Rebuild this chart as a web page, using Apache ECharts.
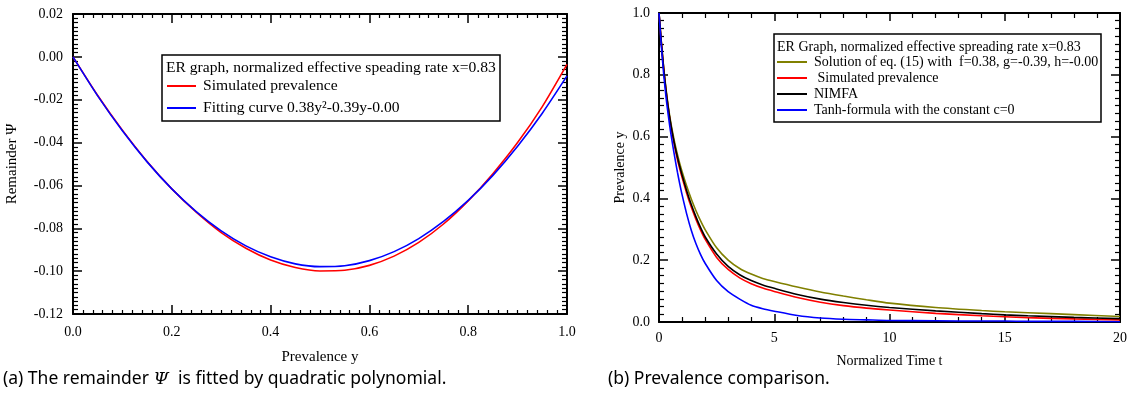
<!DOCTYPE html>
<html>
<head>
<meta charset="utf-8">
<script src="https://cdn.jsdelivr.net/npm/echarts@6/dist/echarts.min.js"></script>
<style>
  html, body { margin: 0; padding: 0; background: #fff; }
  #main { width: 1129px; height: 401px; }
</style>
</head>
<body>
<div id="main"></div>
<script>
// (a) remainder Psi against prevalence y
var prevY = [0, 0.05, 0.1, 0.15, 0.2, 0.25, 0.3, 0.35, 0.4, 0.45, 0.5,
             0.55, 0.6, 0.65, 0.7, 0.75, 0.8, 0.85, 0.9, 0.95, 1.0];
var psiSimulated = [0, -0.0180, -0.0342, -0.0488, -0.0616, -0.0726, -0.0820, -0.0893, -0.0948, -0.0983, -0.0999,
                    -0.0996, -0.0973, -0.0930, -0.0866, -0.0780, -0.0672, -0.0545, -0.0400, -0.0232, -0.0035];
var psiFitted = [0, -0.0182, -0.0345, -0.0490, -0.0616, -0.0723, -0.0812, -0.0882, -0.0933, -0.0966, -0.0979,
                 -0.0975, -0.0951, -0.0909, -0.0848, -0.0768, -0.0670, -0.0553, -0.0417, -0.0263, -0.0089];

// (b) prevalence against normalized time t
var timeT = [0, 0.1, 0.2, 0.3, 0.4, 0.5, 0.6, 0.7, 0.8, 0.9, 1.0, 1.2, 1.4, 1.6, 1.8, 2.0, 2.5, 3.0, 3.5,
             4.0, 4.5, 5.0, 6.0, 7.0, 8.0, 9.0, 10, 12, 14, 15, 16, 18, 20];
var ySolution = [1.000, 0.907, 0.826, 0.757, 0.699, 0.651, 0.610, 0.574, 0.542, 0.513, 0.487, 0.440, 0.398, 0.361,
                 0.328, 0.299, 0.240, 0.200, 0.173, 0.155, 0.141, 0.131, 0.113, 0.097, 0.084, 0.072, 0.061,
                 0.047, 0.037, 0.033, 0.030, 0.024, 0.018];
var ySimulated = [1.000, 0.905, 0.821, 0.750, 0.691, 0.641, 0.598, 0.560, 0.526, 0.496, 0.468, 0.417, 0.372, 0.333,
                  0.298, 0.268, 0.209, 0.170, 0.143, 0.124, 0.110, 0.099, 0.079, 0.064, 0.053, 0.045, 0.039,
                  0.028, 0.020, 0.017, 0.014, 0.010, 0.007];
var yNimfa = [1.000, 0.905, 0.822, 0.752, 0.694, 0.645, 0.603, 0.566, 0.533, 0.503, 0.476, 0.425, 0.380, 0.341,
              0.306, 0.276, 0.220, 0.180, 0.153, 0.134, 0.120, 0.109, 0.089, 0.074, 0.063, 0.054, 0.047,
              0.036, 0.027, 0.023, 0.020, 0.015, 0.011];
var yTanh = [1.000, 0.895, 0.805, 0.731, 0.670, 0.617, 0.570, 0.526, 0.485, 0.447, 0.412, 0.350, 0.297, 0.254,
             0.219, 0.190, 0.134, 0.098, 0.074, 0.054, 0.043, 0.035, 0.021, 0.013, 0.009, 0.007, 0.005,
             0.004, 0.003, 0.003, 0.002, 0.002, 0.001];

var serif = 'Liberation Serif';

function pairs(xs, ys) {
    var out = [];
    for (var i = 0; i < xs.length; i++) {
        out.push([xs[i], ys[i]]);
    }
    return out;
}

function fmt(d) {
    return function (v) {
        if (Math.abs(v) < 1e-9) v = 0;
        return v.toFixed(d);
    };
}

// one side of the framed box: ticks point inward, only bottom/left carry labels
function frameAxis(o) {
    return {
        type: 'value',
        gridIndex: o.grid,
        position: o.position,
        min: o.min,
        max: o.max,
        interval: o.interval,
        name: o.name || '',
        nameLocation: 'middle',
        nameGap: o.nameGap || 0,
        nameTextStyle: {fontFamily: serif, fontSize: o.nameSize || 14, color: '#000'},
        axisLine: {show: true, onZero: false, lineStyle: {color: '#000', width: 2}},
        axisTick: {show: true, inside: true, length: o.tickLen, lineStyle: {color: '#000', width: 1.5}},
        minorTick: {show: true, splitNumber: o.minor, length: o.minorLen, lineStyle: {color: '#000', width: 1.2}},
        axisLabel: {
            show: !!o.labels,
            margin: o.margin || 8,
            fontFamily: serif,
            fontSize: 14,
            color: '#000',
            formatter: o.formatter
        },
        splitLine: {show: false},
        minorSplitLine: {show: false}
    };
}

function lineSeries(name, data, color, xi, yi) {
    return {
        name: name,
        type: 'line',
        xAxisIndex: xi,
        yAxisIndex: yi,
        data: data,
        symbol: 'none',
        showSymbol: false,
        smooth: 0.25,
        clip: true,
        lineStyle: {color: color, width: 1.6},
        itemStyle: {color: color}
    };
}

var myChart = echarts.init(document.getElementById('main'));
myChart.setOption(option = {
    backgroundColor: '#fff',
    animation: false,
    grid: [
        {left: 73, right: 562, top: 14, bottom: 87, outerBoundsMode: 'none'},
        {left: 659, right: 9, top: 13, bottom: 79, outerBoundsMode: 'none'}
    ],
    xAxis: [
        frameAxis({grid: 0, position: 'bottom', min: 0, max: 1, interval: 0.2, minor: 10, tickLen: 9, minorLen: 4,
                   labels: true, margin: 11, formatter: fmt(1), name: 'Prevalence y', nameGap: 36, nameSize: 15}),
        frameAxis({grid: 0, position: 'top', min: 0, max: 1, interval: 0.2, minor: 10, tickLen: 9, minorLen: 4}),
        frameAxis({grid: 1, position: 'bottom', min: 0, max: 20, interval: 5, minor: 5, tickLen: 8, minorLen: 5,
                   labels: true, margin: 9, formatter: fmt(0), name: 'Normalized Time t', nameGap: 32}),
        frameAxis({grid: 1, position: 'top', min: 0, max: 20, interval: 5, minor: 5, tickLen: 8, minorLen: 5})
    ],
    yAxis: [
        frameAxis({grid: 0, position: 'left', min: -0.12, max: 0.02, interval: 0.02, minor: 10, tickLen: 9, minorLen: 5,
                   labels: true, margin: 10, formatter: fmt(2), name: 'Remainder \u03A8', nameGap: 53, nameSize: 15}),
        frameAxis({grid: 0, position: 'right', min: -0.12, max: 0.02, interval: 0.02, minor: 10, tickLen: 9, minorLen: 5}),
        frameAxis({grid: 1, position: 'left', min: 0, max: 1, interval: 0.2, minor: 8, tickLen: 9, minorLen: 5,
                   labels: true, margin: 9, formatter: fmt(1), name: 'Prevalence y', nameGap: 32}),
        frameAxis({grid: 1, position: 'right', min: 0, max: 1, interval: 0.2, minor: 8, tickLen: 9, minorLen: 5})
    ],
    title: [
        {   // legend frame + heading, left panel
            text: 'ER graph, normalized effective speading rate x=0.83',
            left: 162, top: 55,
            padding: [4, 4, 44, 4],
            borderColor: '#000', borderWidth: 1.5,
            textStyle: {fontFamily: serif, fontSize: 15.6, lineHeight: 18, fontWeight: 'normal', color: '#000'}
        },
        {   // legend frame + heading, right panel
            text: 'ER Graph, normalized effective spreading rate x=0.83',
            left: 774, top: 34,
            padding: [5, 20, 67, 3],
            borderColor: '#000', borderWidth: 1.5,
            textStyle: {fontFamily: serif, fontSize: 14, lineHeight: 16, fontWeight: 'normal', color: '#000'}
        },
        {
            text: '{n|(a) The remainder }{i|\u03A8}{n|  is fitted by quadratic polynomial.}',
            left: 3, top: 370, padding: 0,
            textStyle: {
                fontWeight: 'normal',
                rich: {
                    n: {fontFamily: 'Noto Sans', fontSize: 17.5, fontWeight: 'normal', color: '#000'},
                    i: {fontFamily: 'DejaVu Serif', fontStyle: 'italic', fontWeight: 'normal', fontSize: 17.5, color: '#000'}
                }
            }
        },
        {
            text: '(b) Prevalence comparison.',
            left: 608, top: 370, padding: 0,
            textStyle: {fontFamily: 'Noto Sans', fontSize: 17.5, fontWeight: 'normal', color: '#000'}
        }
    ],
    legend: [
        {
            data: ['Simulated prevalence', 'Fitting curve 0.38y\u00B2-0.39y-0.00'],
            orient: 'vertical',
            left: 167, top: 77,
            padding: 0,
            icon: 'rect',
            itemWidth: 29, itemHeight: 2, itemGap: 4,
            selectedMode: false,
            textStyle: {fontFamily: serif, fontSize: 15.6, lineHeight: 18, color: '#000', padding: [0, 0, 0, 2]}
        },
        {
            data: ['Solution of eq. (15) with  f=0.38, g=-0.39, h=-0.00', ' Simulated prevalence',
                   'NIMFA', 'Tanh-formula with the constant c=0'],
            orient: 'vertical',
            left: 777, top: 55,
            padding: 0,
            icon: 'rect',
            itemWidth: 30, itemHeight: 2, itemGap: 2,
            selectedMode: false,
            textStyle: {fontFamily: serif, fontSize: 14, lineHeight: 14, color: '#000', padding: [0, 0, 0, 2]}
        }
    ],
    series: [
        lineSeries('Simulated prevalence', pairs(prevY, psiSimulated), '#ff0000', 0, 0),
        lineSeries('Fitting curve 0.38y\u00B2-0.39y-0.00', pairs(prevY, psiFitted), '#0000ff', 0, 0),
        lineSeries('Solution of eq. (15) with  f=0.38, g=-0.39, h=-0.00', pairs(timeT, ySolution), '#808000', 2, 2),
        lineSeries(' Simulated prevalence', pairs(timeT, ySimulated), '#ff0000', 2, 2),
        lineSeries('NIMFA', pairs(timeT, yNimfa), '#000000', 2, 2),
        lineSeries('Tanh-formula with the constant c=0', pairs(timeT, yTanh), '#0000ff', 2, 2)
    ]
}, true);
</script>
</body>
</html>
